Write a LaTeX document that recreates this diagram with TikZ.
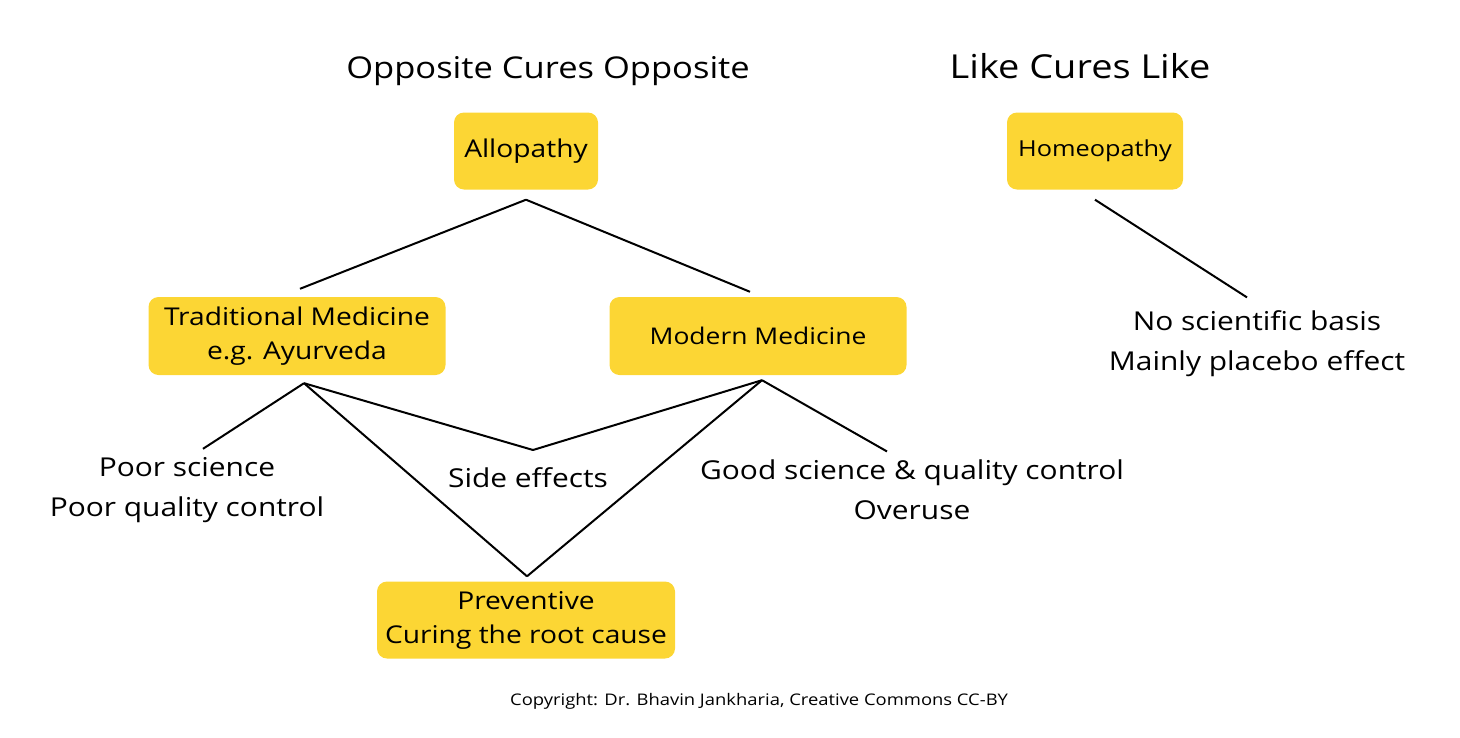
\documentclass[tikz,border=0pt]{standalone}
\usepackage{fontspec}
\setmainfont{Open Sans}[FakeStretch=1.15]
\usepackage{tikz}
\definecolor{boxgold}{RGB}{252,214,52}

\begin{document}
\begin{tikzpicture}[x=1pt,y=-1pt,
  box/.style={fill=boxgold, rounded corners=10pt, align=center, inner sep=0pt,
    font=\fontsize{24.5}{34}\selectfont},
  note/.style={align=center, font=\fontsize{26}{40}\selectfont},
  title/.style={anchor=base, font=\fontsize{30}{36}\selectfont},
  link/.style={line width=2pt}]
\useasboundingbox (0,0) rectangle (1460,737);

\node[title] (occ) at (548,78) {Opposite Cures Opposite};
\node[title, font=\fontsize{33}{38}\selectfont] (lcl) at (1080,78) {Like Cures Like};

\node[box, minimum width=144, minimum height=77] (allo) at (526,151) {Allopathy};
\node[box, minimum width=176, minimum height=77, font=\fontsize{22}{34}\selectfont] (homeo) at (1095,151) {Homeopathy};
\node[box, minimum width=297, minimum height=78] (trad) at (297,336) {Traditional Medicine\\e.g. Ayurveda};
\node[box, minimum width=297, minimum height=78, font=\fontsize{23}{34}\selectfont] (modern) at (758,336) {Modern Medicine};
\node[box, minimum width=298, minimum height=77] (prev) at (526,620) {Preventive\\Curing the root cause};

\node[note] (poor) at (187,490) {Poor science\\Poor quality control};
\node[note] (side) at (528,478) {Side effects};
\node[note] (good) at (912,490) {Good science \& quality control\\Overuse};
\node[note] (nosci) at (1257,344) {No scientific basis\\Mainly placebo effect};

\node[font=\fontsize{16}{20}\selectfont] (copy) at (759,701) {Copyright: Dr. Bhavin Jankharia, Creative Commons CC-BY};

\coordinate (sefork) at (533,450);

\draw[link] ([yshift=-10pt]allo.south) -- ([xshift=3pt,yshift=8pt]trad.north);
\draw[link] ([yshift=-10pt]allo.south) -- ([xshift=-8pt,yshift=5pt]modern.north);
\draw[link] ([yshift=-10pt]homeo.south) -- ([xshift=-10pt,yshift=10pt]nosci.north);

\draw[link] ([xshift=7pt,yshift=-8pt]trad.south) -- ([xshift=16pt,yshift=5pt]poor.north);
\draw[link] ([xshift=7pt,yshift=-8pt]trad.south) -- (sefork);
\draw[link] ([xshift=7pt,yshift=-8pt]trad.south) -- ([xshift=1pt,yshift=5pt]prev.north);

\draw[link] ([xshift=4pt,yshift=-5pt]modern.south) -- (sefork);
\draw[link] ([xshift=4pt,yshift=-5pt]modern.south) -- ([xshift=1pt,yshift=5pt]prev.north);
\draw[link] ([xshift=4pt,yshift=-5pt]modern.south) -- ([xshift=-25pt,yshift=5pt]good.north);

\end{tikzpicture}
\end{document}
